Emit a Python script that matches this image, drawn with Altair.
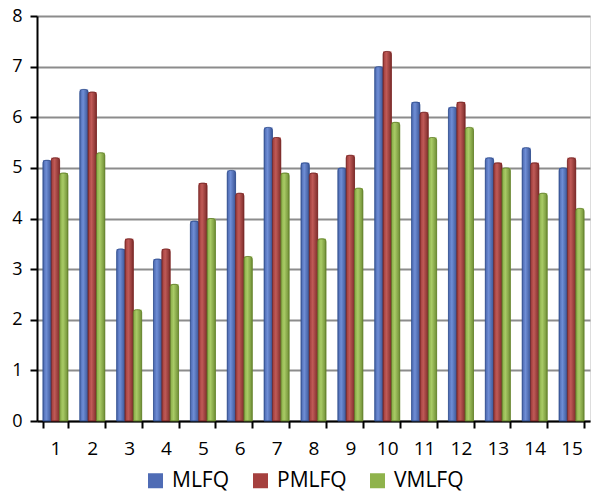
import altair as alt
import pandas as pd

groups = [str(i) for i in range(1, 16)]
series = ["MLFQ", "PMLFQ", "VMLFQ"]

mlfq = [5.15, 6.55, 3.4, 3.2, 3.95, 4.95, 5.8, 5.1, 5.0, 7.0, 6.3, 6.2, 5.2, 5.4, 5.0]
pmlfq = [5.2, 6.5, 3.6, 3.4, 4.7, 4.5, 5.6, 4.9, 5.25, 7.3, 6.1, 6.3, 5.1, 5.1, 5.2]
vmlfq = [4.9, 5.3, 2.2, 2.7, 4.0, 3.25, 4.9, 3.6, 4.6, 5.9, 5.6, 5.8, 5.0, 4.5, 4.2]

base_colors = ["#4f6cb5", "#a5403e", "#8fb34c"]
# left, highlight and shadow tones for each cylinder
shades = [
    ["#4a66ad", "#6f8ed6", "#3b5596"],
    ["#9c3b39", "#c05a57", "#7e2d2b"],
    ["#86aa45", "#a9cb66", "#6f8e35"],
]
edges = ["#34508f", "#7a2a28", "#66832f"]

rows = []
for name, vals in zip(series, [mlfq, pmlfq, vmlfq]):
    for g, v in zip(groups, vals):
        rows.append({"group": g, "series": name, "value": v})
df = pd.DataFrame(rows)

FONT = "Open Sans"
SHIFT = 3  # bars sit slightly right of the category centre

x_enc = alt.X(
    "group:N",
    sort=groups,
    scale=alt.Scale(paddingInner=0.32, paddingOuter=0.16),
    axis=alt.Axis(
        title=None,
        labelAngle=0,
        tickBand="extent",
        grid=False,
        domainColor="#000000",
        domainWidth=2,
        tickColor="#000000",
        tickWidth=2,
        tickSize=7,
        labelPadding=11,
        labelFontSize=19,
        labelColor="#000000",
        labelFont=FONT,
    ),
)
xoff_enc = alt.XOffset("series:N", sort=series, scale=alt.Scale(paddingInner=0, paddingOuter=0))
y_enc = alt.Y(
    "value:Q",
    scale=alt.Scale(domain=[0, 8], nice=False),
    axis=alt.Axis(
        title=None,
        values=list(range(9)),
        grid=True,
        gridColor="#8c8c8c",
        gridWidth=2,
        domainColor="#000000",
        domainWidth=2,
        tickColor="#000000",
        tickWidth=2,
        tickSize=7,
        labelPadding=8,
        labelFontSize=18,
        labelColor="#000000",
        labelFont=FONT,
    ),
)

base = alt.Chart(df).mark_bar(xOffset=SHIFT).encode(
    x=x_enc,
    xOffset=xoff_enc,
    y=y_enc,
    color=alt.Color(
        "series:N",
        sort=series,
        scale=alt.Scale(domain=series, range=base_colors),
        legend=alt.Legend(
            title=None,
            orient="none",
            legendX=108,
            legendY=454,
            direction="horizontal",
            columnPadding=20,
            symbolType="square",
            symbolSize=225,
            symbolStrokeWidth=0,
            labelFontSize=21,
            labelFont=FONT,
            labelColor="#000000",
            labelOffset=6,
        ),
    ),
)

layers = [base]
for name, stops, edge in zip(series, shades, edges):
    layers.append(
        alt.Chart(df)
        .transform_filter(alt.datum.series == name)
        .mark_bar(
            xOffset=SHIFT,
            color=alt.Gradient(
                gradient="linear",
                x1=0, x2=1, y1=0, y2=0,
                stops=[
                    alt.GradientStop(color=stops[0], offset=0),
                    alt.GradientStop(color=stops[1], offset=0.4),
                    alt.GradientStop(color=stops[2], offset=1),
                ],
            ),
            stroke=edge,
            strokeWidth=0.8,
            cornerRadiusTopLeft=3,
            cornerRadiusTopRight=3,
        )
        .encode(x=x_enc, xOffset=xoff_enc, y=y_enc)
    )

chart = (
    alt.layer(*layers)
    .properties(
        width=553,
        height=405,
        autosize=alt.AutoSizeParams(type="none"),
        padding={"left": 37, "top": 16, "right": 5, "bottom": 73},
    )
    .configure_view(stroke=None)
    .configure(background="#ffffff")
)

chart.save("out.html", embed_options={"renderer": "svg", "actions": False})
